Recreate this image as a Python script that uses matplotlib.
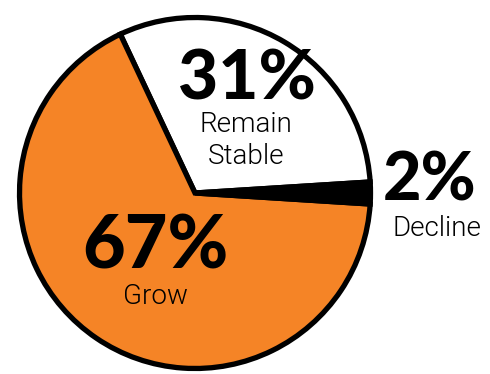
import matplotlib
matplotlib.use("Agg")
import matplotlib.pyplot as plt

categories = ["Remain Stable", "Grow", "Decline"]
values = [31, 67, 2]
pct_labels = ["31%", "67%", "2%"]
colors = ["#ffffff", "#f58426", "#000000"]

W, H = 490, 374
fig = plt.figure(figsize=(W / 100, H / 100), dpi=100)
cx, cy, r = 195, 193, 179
ax = fig.add_axes([(cx - r) / W, (H - cy - r) / H, 2 * r / W, 2 * r / H])
ax.pie(values, colors=colors, startangle=3.6, counterclock=True,
       wedgeprops=dict(edgecolor="black", linewidth=3.8, joinstyle="miter"))
ax.set_xlim(-1.02, 1.02)
ax.set_ylim(-1.02, 1.02)
ax.set_aspect("equal")
ax.axis("off")

fam_b = ["Lato", "DejaVu Sans"]
fam_s = ["Roboto", "DejaVu Sans"]
def px(x, y):
    return x / W, 1 - y / H

def big(x, y, s, size):
    fig.text(*px(x, y), s, ha="center", va="center", fontsize=size,
             fontweight="black", family=fam_b, color="black")

def small(x, y, s, size=20):
    fig.text(*px(x, y), s, ha="center", va="center", fontsize=size,
             fontweight=300, family=fam_s, color="black")

big(247, 80, pct_labels[0], 50)
small(246, 125, "Remain")
small(246, 157, "Stable")
big(430, 182, pct_labels[2], 48)
small(437, 229, "Decline")
big(155, 247, pct_labels[1], 53)
small(155, 297, "Grow")

fig.savefig("out.png", dpi=100)
